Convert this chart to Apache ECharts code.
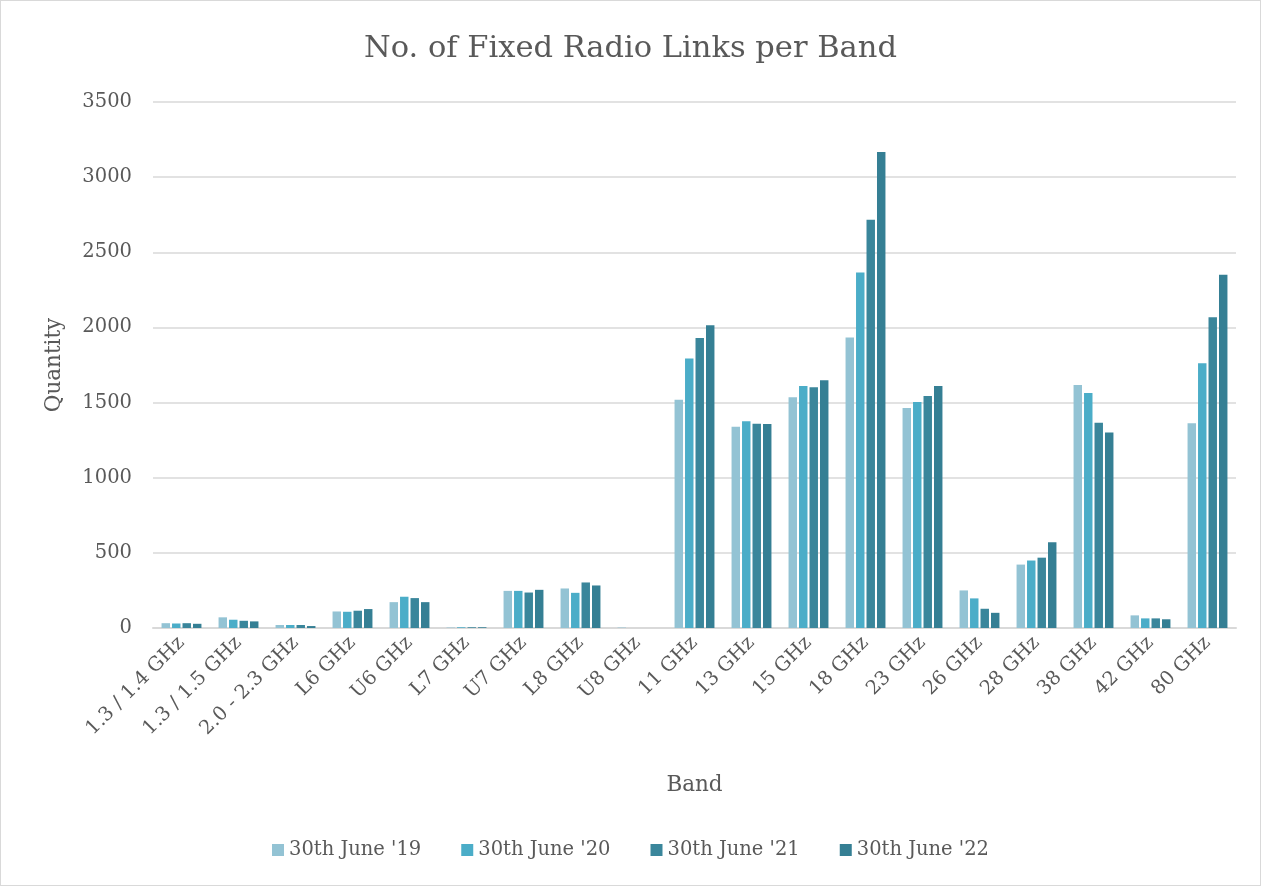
<!DOCTYPE html>
<html>
<head>
<meta charset="utf-8">
<script src="https://cdn.jsdelivr.net/npm/echarts@6/dist/echarts.min.js"></script>
<style>
  html, body { margin: 0; padding: 0; background: #fff; }
  #chart { width: 1259px; height: 884px; border: 1px solid #d9d9d9; }
</style>
</head>
<body>
<div id="chart"></div>
<script>
// Frequency bands on the category axis
const bands = ['1.3 / 1.4 GHz', '1.3 / 1.5 GHz', '2.0 - 2.3 GHz', 'L6 GHz', 'U6 GHz', 'L7 GHz',
  'U7 GHz', 'L8 GHz', 'U8 GHz', '11 GHz', '13 GHz', '15 GHz', '18 GHz', '23 GHz', '26 GHz',
  '28 GHz', '38 GHz', '42 GHz', '80 GHz'];

// Number of fixed radio links per band at each snapshot date
const june19 = [32, 71, 20, 110, 172, 3, 247, 263, 3, 1518, 1339, 1535, 1933, 1464, 250, 422, 1617, 84, 1363];
const june20 = [30, 55, 20, 108, 208, 5, 247, 234, 0, 1794, 1376, 1610, 2366, 1504, 197, 449, 1564, 64, 1761];
const june21 = [32, 48, 20, 115, 199, 5, 236, 303, 0, 1929, 1359, 1602, 2717, 1544, 128, 468, 1365, 64, 2068];
const june22 = [28, 44, 13, 126, 172, 5, 254, 283, 0, 2015, 1357, 1648, 3168, 1610, 101, 570, 1301, 58, 2351];

// Y-axis tick labels
const yTicks = ['0', '500', '1000', '1500', '2000', '2500', '3000', '3500'];

const seriesNames = ["30th June '19", "30th June '20", "30th June '21", "30th June '22"];
const seriesData = [june19, june20, june21, june22];
const colors = ['#93c3d4', '#4badc8', '#3a869b', '#357f94'];

const FONT = '"DejaVu Serif", "Liberation Serif", serif';
const TEXT = '#595959';

const chart = echarts.init(document.getElementById('chart'), null, { renderer: 'canvas' });
chart.setOption({
  animation: false,
  backgroundColor: '#fff',
  color: colors,
  title: {
    text: 'No. of Fixed Radio Links per Band',
    left: 'center',
    top: 28,
    textStyle: { fontFamily: FONT, fontSize: 30.5, fontWeight: 'normal', color: TEXT }
  },
  legend: {
    bottom: 20,
    left: 'center',
    itemWidth: 12,
    itemHeight: 12,
    itemGap: 40,
    icon: 'rect',
    textStyle: { fontFamily: FONT, fontSize: 19.5, color: TEXT }
  },
  grid: { left: 152, right: 24, top: 101, bottom: 257, containLabel: false },
  xAxis: {
    type: 'category',
    data: bands,
    name: 'Band',
    nameLocation: 'middle',
    nameGap: 146,
    nameTextStyle: { fontFamily: FONT, fontSize: 21.5, color: TEXT },
    axisLine: { lineStyle: { color: '#d9d9d9', width: 2 } },
    axisTick: { show: false },
    axisLabel: { rotate: 45, fontFamily: FONT, fontSize: 19.5, color: TEXT, margin: 12, interval: 0 }
  },
  yAxis: {
    type: 'value',
    min: 0,
    max: 3500,
    interval: 500,
    name: 'Quantity',
    nameLocation: 'middle',
    nameGap: 88,
    nameTextStyle: { fontFamily: FONT, fontSize: 21.5, color: TEXT },
    axisLine: { show: false },
    axisTick: { show: false },
    axisLabel: {
      fontFamily: FONT, fontSize: 19.5, color: TEXT, margin: 21,
      formatter: (v) => yTicks[Math.round(v / 500)]
    },
    splitLine: { lineStyle: { color: '#d9d9d9', width: 1.5 } }
  },
  series: seriesNames.map((name, i) => ({
    name: name,
    type: 'bar',
    data: seriesData[i],
    barGap: '24%',
    barCategoryGap: '30%',
    itemStyle: { color: colors[i] }
  }))
});
</script>
</body>
</html>
